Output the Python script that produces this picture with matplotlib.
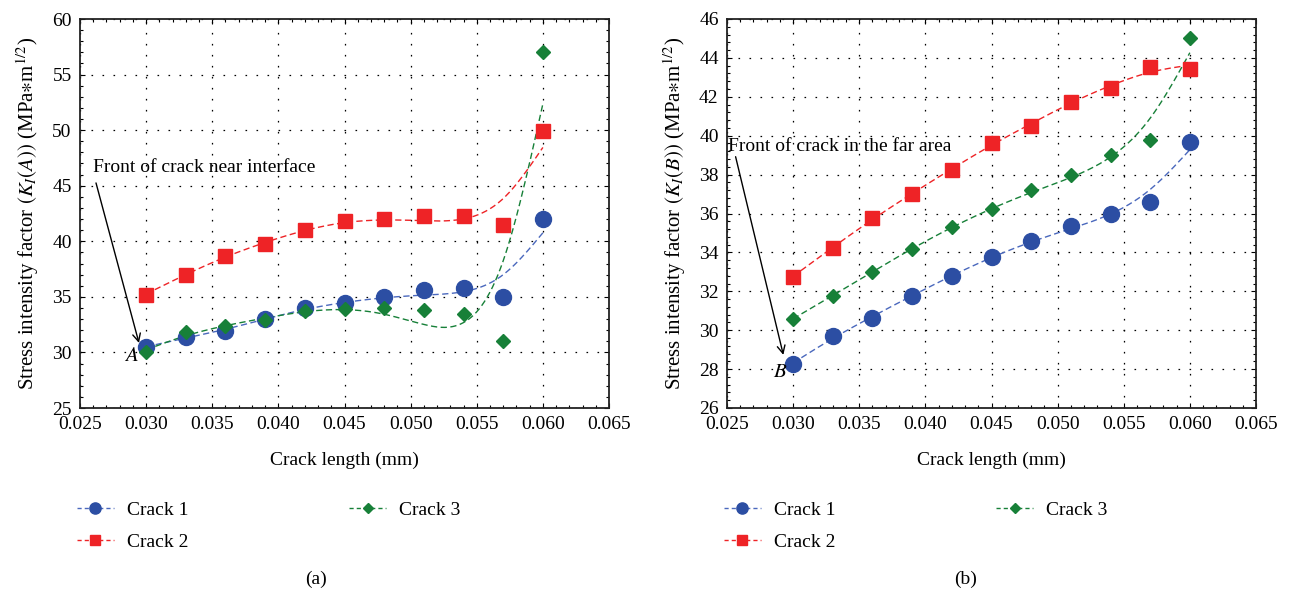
import numpy as np
import matplotlib
matplotlib.use("Agg")
import matplotlib.pyplot as plt
from matplotlib.ticker import MultipleLocator, FormatStrFormatter

plt.rcParams["font.family"] = ["Liberation Serif", "DejaVu Serif"]
plt.rcParams["mathtext.fontset"] = "stix"

# Crack length (mm)
crack_length = [0.030, 0.033, 0.036, 0.039, 0.042, 0.045, 0.048, 0.051, 0.054, 0.057, 0.060]

# Stress intensity factor at front A (near interface)
a_crack1 = [30.5, 31.4, 31.9, 33.0, 34.0, 34.45, 34.95, 35.6, 35.8, 34.95, 42.0]
a_crack2 = [35.2, 37.0, 38.7, 39.75, 41.0, 41.8, 42.0, 42.3, 42.3, 41.45, 49.95]
a_crack3 = [30.05, 31.8, 32.35, 32.9, 33.7, 33.9, 34.0, 33.8, 33.5, 31.0, 57.0]

# Stress intensity factor at front B (far area)
b_crack1 = [28.25, 29.7, 30.65, 31.75, 32.8, 33.75, 34.6, 35.35, 36.0, 36.6, 39.7]
b_crack2 = [32.75, 34.25, 35.75, 37.0, 38.25, 39.6, 40.5, 41.75, 42.45, 43.55, 43.45]
b_crack3 = [30.6, 31.75, 33.0, 34.2, 35.3, 36.25, 37.2, 38.0, 39.0, 39.8, 45.0]

series_labels = ["Crack 1", "Crack 2", "Crack 3"]
colors = ["#2c4ea3", "#ee2326", "#178038"]
line_colors = ["#4a68bd", "#ee2326", "#178038"]
markers = ["o", "s", "D"]
msizes = [11.5, 10, 7.5]
SMOOTH = 0.4
FS = 14

fig = plt.figure(figsize=(12.9, 5.95), dpi=100)
W, H = 1290, 595


def axes_at(x0, y0, x1, y1):
    return fig.add_axes([x0 / W, 1 - y1 / H, (x1 - x0) / W, (y1 - y0) / H])


def smoothing_spline(x, y, lam=SMOOTH, npts=300):
    """Cubic smoothing spline (Reinsch) on knots expressed in step units."""
    x = np.asarray(x, float)
    y = np.asarray(y, float)
    n = len(x)
    t = (x - x[0]) / (x[1] - x[0])
    h = np.diff(t)
    Q = np.zeros((n, n - 2))
    R = np.zeros((n - 2, n - 2))
    for j in range(1, n - 1):
        Q[j - 1, j - 1] = 1 / h[j - 1]
        Q[j, j - 1] = -1 / h[j - 1] - 1 / h[j]
        Q[j + 1, j - 1] = 1 / h[j]
        R[j - 1, j - 1] = (h[j - 1] + h[j]) / 3
        if j < n - 2:
            R[j - 1, j] = R[j, j - 1] = h[j] / 6
    K = Q @ np.linalg.solve(R, Q.T)
    g = np.linalg.solve(np.eye(n) + lam * K, y)
    gam = np.zeros(n)
    gam[1:-1] = np.linalg.solve(R, Q.T @ g)
    tf = np.linspace(t[0], t[-1], npts)
    idx = np.clip(np.searchsorted(t, tf, side="right") - 1, 0, n - 2)
    hi = h[idx]
    a = (t[idx + 1] - tf) / hi
    b = (tf - t[idx]) / hi
    yf = a * g[idx] + b * g[idx + 1] + ((a ** 3 - a) * gam[idx] + (b ** 3 - b) * gam[idx + 1]) * hi ** 2 / 6
    xf = x[0] + tf * (x[1] - x[0])
    return xf, yf


def draw_panel(ax, data, ylim, ystep, ylabel):
    for vals, lab, c, lc, m, ms in zip(data, series_labels, colors, line_colors, markers, msizes):
        xf, yf = smoothing_spline(crack_length, vals)
        ax.plot(xf, yf, color=lc, lw=1.0, dashes=(4.5, 2.5), zorder=2)
        ax.plot(crack_length, vals, linestyle="none", marker=m, ms=ms,
                color=c, mec=c, zorder=3)
        ax.plot([], [], color=lc, lw=1.0, dashes=(3, 2.2), marker=m, ms=ms * 0.7,
                mfc=c, mec=c, label=lab)
    ax.set_xlim(0.025, 0.065)
    ax.set_ylim(*ylim)
    ax.xaxis.set_major_locator(MultipleLocator(0.005))
    ax.xaxis.set_minor_locator(MultipleLocator(0.001))
    ax.yaxis.set_major_locator(MultipleLocator(ystep))
    ax.yaxis.set_minor_locator(MultipleLocator(ystep / 5))
    ax.xaxis.set_major_formatter(FormatStrFormatter("%.3f"))
    ax.tick_params(which="both", direction="in", top=True, right=True, labelsize=FS)
    ax.tick_params(which="major", length=3.5, width=0.8, pad=6)
    ax.tick_params(which="minor", length=2, width=0.8)
    ax.grid(True, which="major", color="black", lw=0.9, linestyle=(0, (1.3, 7.5)))
    for s in ax.spines.values():
        s.set_linewidth(1.3)
        s.set_color("#222222")
    ax.set_xlabel("Crack length (mm)", fontsize=FS, labelpad=13)
    ax.set_ylabel(ylabel, fontsize=FS + 1, labelpad=8)


ax_a = axes_at(80, 19, 609, 408)
draw_panel(ax_a, [a_crack1, a_crack2, a_crack3], (25, 60), 5,
           r"Stress intensity factor $(K_I(A))$ (MPa$\ast$m$^{1/2}$)")
ax_a.text(0.0260, 46.6, "Front of crack near interface", fontsize=FS, va="center", ha="left")
ax_a.annotate("", xy=(0.02946, 30.85), xytext=(0.02621, 45.25),
              arrowprops=dict(arrowstyle="->", lw=1.0, color="black", mutation_scale=14,
                              shrinkA=0, shrinkB=0))
ax_a.text(0.02886, 29.6, "$A$", fontsize=FS + 1, ha="center", va="center")

ax_b = axes_at(727, 19, 1256, 408)
draw_panel(ax_b, [b_crack1, b_crack2, b_crack3], (26, 46), 2,
           r"Stress intensity factor $(K_I(B))$ (MPa$\ast$m$^{1/2}$)")
ax_b.text(0.02509, 39.45, "Front of crack in the far area", fontsize=FS, va="center", ha="left")
ax_b.annotate("", xy=(0.02926, 28.73), xytext=(0.02565, 38.92),
              arrowprops=dict(arrowstyle="->", lw=1.0, color="black", mutation_scale=14,
                              shrinkA=0, shrinkB=0))
ax_b.text(0.02904, 27.8, "$B$", fontsize=FS + 1, ha="center", va="center")

for ax, lx in ((ax_a, 77), (ax_b, 724)):
    h, l = ax.get_legend_handles_labels()
    fig.legend(h, l, loc="upper left", bbox_to_anchor=(lx / W, 1 - 501 / H),
               ncol=2, frameon=False, fontsize=FS, handlelength=1.9,
               handletextpad=0.65, columnspacing=8.3, labelspacing=0.75,
               borderpad=0, borderaxespad=0)

fig.text(316 / W, 1 - 579 / H, "(a)", fontsize=FS, ha="center", va="center")
fig.text(966 / W, 1 - 579 / H, "(b)", fontsize=FS, ha="center", va="center")

fig.savefig("out.png", dpi=100)
